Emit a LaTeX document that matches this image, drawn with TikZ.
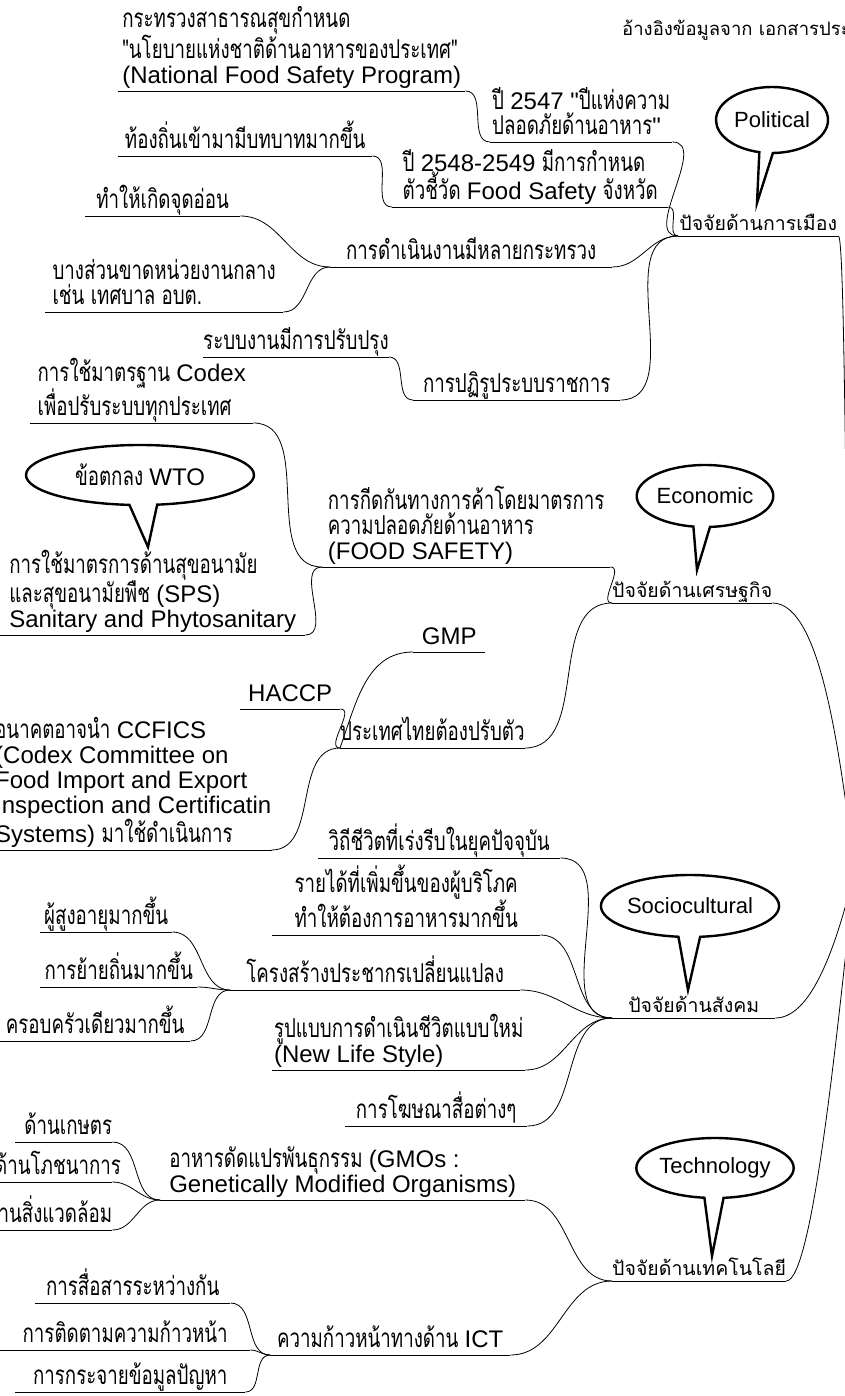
\documentclass[tikz,border=0pt]{standalone}
\usepackage{fontspec}
\setmainfont{Liberation Sans}
\newfontfamily\thaisub[Script=Thai,FakeStretch=0.72]{Loma}
\newfontfamily\thaimain[Script=Thai]{Loma}
\newfontfamily\latin{Liberation Sans}
\newcommand\en[1]{{\latin\fontsize{24}{25}\selectfont #1}}
\usetikzlibrary{shapes.callouts}

\tikzset{
  topic/.style={anchor=south west, inner xsep=0pt, inner ysep=0pt, text depth=7pt,
    align=left, font=\thaisub\fontsize{26}{25}\selectfont},
  branch/.style={topic, align=center, text depth=5pt, font=\thaimain\fontsize{19.5}{22}\selectfont},
  uline/.style={line width=0.8pt},
  link/.style={line width=0.8pt},
  bubble/.style={ellipse callout, draw, line width=2.4pt, fill=white, inner sep=0pt,
    callout pointer arc=14, font=\fontsize{22}{24}\selectfont}
}

\begin{document}
\begin{tikzpicture}[x=1pt,y=-1pt]
  \useasboundingbox (0,0) rectangle (845,1396);
  \coordinate (root) at (855,870);

  \node[anchor=west, inner sep=0pt, font=\thaimain\fontsize{18.5}{20}\selectfont] (note) at (622,30) {อ้างอิงข้อมูลจาก เอกสารประ};

  %ปัจจัยด้านการเมือง
  \node[branch, minimum width=160pt] (pol) at (678,236) {ปัจจัยด้านการเมือง};
  \node[topic, minimum width=182pt] (p2547) at (490,142) {ปี \en{2547 "}ปีแห่งความ\\ปลอดภัยด้านอาหาร\en{"}};
  \node[topic, minimum width=347pt] (nfsp) at (118,91) {กระทรวงสาธารณสุขกำหนด\\"นโยบายแห่งชาติด้านอาหารของประเทศ"\\\en{(National Food Safety Program)}};
  \node[topic, minimum width=276pt] (p2548) at (392,207) {ปี \en{2548-2549} มีการกำหนด\\ตัวชี้วัด \en{Food Safety} จังหวัด};
  \node[topic, minimum width=254pt] (local) at (118,156) {ท้องถิ่นเข้ามามีบทบาทมากขึ้น};
  \node[topic, minimum width=282pt] (ministry) at (330,267) {การดำเนินงานมีหลายกระทรวง};
  \node[topic, minimum width=155pt] (weak) at (85,216) {ทำให้เกิดจุดอ่อน};
  \node[topic, minimum width=238pt] (central) at (45,312) {บางส่วนขาดหน่วยงานกลาง\\เช่น เทศบาล อบต.};
  \node[topic, minimum width=207pt] (reform) at (413,400) {การปฏิรูประบบราชการ};
  \node[topic, minimum width=182pt] (improve) at (203,357) {ระบบงานมีการปรับปรุง};

  %ปัจจัยด้านเศรษฐกิจ
  \node[branch, minimum width=158pt] (eco) at (612,603) {ปัจจัยด้านเศรษฐกิจ};
  \node[topic, minimum width=288pt] (barrier) at (322,567) {การกีดกันทางการค้าโดยมาตรการ\\ความปลอดภัยด้านอาหาร\\\en{(FOOD SAFETY)}};
  \node[topic, minimum width=223pt] (codex) at (30,423) {การใช้มาตรฐาน \en{Codex}\\เพื่อปรับระบบทุกประเทศ};
  \node[topic, minimum width=305pt] (sps) at (0,635) {การใช้มาตรการด้านสุขอนามัย\\และสุขอนามัยพืช \en{(SPS)}\\\en{Sanitary and Phytosanitary}};
  \node[topic, minimum width=180pt] (thai) at (340,748) {ประเทศไทยต้องปรับตัว};
  \node[topic, minimum width=72pt] (gmp) at (413,652) {\en{GMP}};
  \node[topic, minimum width=100pt] (haccp) at (240,709) {\en{HACCP}};
  \node[topic, minimum width=275pt] (ccfics) at (-5,850) {อนาคตอาจนำ \en{CCFICS}\\\en{(Codex Committee on}\\\en{Food Import and Export}\\\en{Inspection and Certificatin}\\\en{Systems)} มาใช้ดำเนินการ};

  %ปัจจัยด้านสังคม
  \node[branch, minimum width=163pt] (soc) at (612,1018) {ปัจจัยด้านสังคม};
  \node[topic, minimum width=242pt] (rush) at (318,858) {วิถีชีวิตที่เร่งรีบในยุคปัจจุบัน};
  \node[topic, minimum width=268pt] (income) at (272,935) {รายได้ที่เพิ่มขึ้นของผู้บริโภค\\ทำให้ต้องการอาหารมากขึ้น};
  \node[topic, minimum width=290pt] (demog) at (230,990) {โครงสร้างประชากรเปลี่ยนแปลง};
  \node[topic, minimum width=132pt] (elder) at (40,932) {ผู้สูงอายุมากขึ้น};
  \node[topic, minimum width=157pt] (migr) at (40,987) {การย้ายถิ่นมากขึ้น};
  \node[topic, minimum width=190pt] (family) at (0,1041) {ครอบครัวเดียวมากขึ้น};
  \node[topic, minimum width=253pt] (life) at (272,1070) {รูปแบบการดำเนินชีวิตแบบใหม่\\\en{(New Life Style)}};
  \node[topic, minimum width=182pt] (ads) at (345,1126) {การโฆษณาสื่อต่างๆ};

  %ปัจจัยด้านเทคโนโลยี
  \node[branch, minimum width=160pt] (tech) at (612,1281) {ปัจจัยด้านเทคโนโลยี};
  \node[topic, minimum width=365pt] (gmo) at (160,1200) {อาหารดัดแปรพันธุกรรม \en{(GMOs :}\\\en{Genetically Modified Organisms)}};
  \node[topic, text width=97pt, align=right] (agri) at (15,1142) {ด้านเกษตร};
  \node[topic, text width=117pt, align=right] (nutri) at (-5,1182) {ด้านโภชนาการ};
  \node[topic, text width=137pt, align=right] (envi) at (-25,1230) {ด้านสิ่งแวดล้อม};
  \node[topic, minimum width=240pt] (ict) at (270,1355) {ความก้าวหน้าทางด้าน \en{ICT}};
  \node[topic, minimum width=195pt] (comm) at (35,1303) {การสื่อสารระหว่างกัน};
  \node[topic, minimum width=250pt] (track) at (0,1350) {การติดตามความก้าวหน้า};
  \node[topic, minimum width=230pt] (spread) at (15,1392) {การกระจายข้อมูลปัญหา};

  %เส้นใต้หัวข้อ
  \foreach \n in {pol,p2547,nfsp,p2548,local,ministry,weak,central,reform,improve,
                  eco,barrier,codex,sps,thai,gmp,haccp,ccfics,
                  soc,rush,income,demog,elder,migr,family,life,ads,
                  tech,gmo,agri,nutri,envi,ict,comm,track,spread}
    \draw[uline] (\n.south west) -- (\n.south east);

  %เส้นเชื่อม
  \foreach \a/\b in {nfsp/p2547,p2547/pol,local/p2548,p2548/pol,weak/ministry,central/ministry,
                     ministry/pol,improve/reform,reform/pol,
                     codex/barrier,sps/barrier,barrier/eco,haccp/thai,ccfics/thai,thai/eco,
                     rush/soc,income/soc,elder/demog,migr/demog,family/demog,demog/soc,life/soc,ads/soc,
                     agri/gmo,nutri/gmo,envi/gmo,gmo/tech,comm/ict,track/ict,spread/ict,ict/tech}
    \draw[link] (\a.south east) to[out=0,in=180] (\b.south west);
  \draw[link] (gmp.south west) to[out=180,in=70] (thai.south west);

  \draw[link] (pol.south east) .. controls +(8,0) and +(-10,-170) .. (root);
  \draw[link] (eco.south east) .. controls +(50,0) and +(-15,-110) .. (root);
  \draw[link] (soc.south east) .. controls +(40,0) and +(-15,60) .. (root);
  \draw[link] (tech.south east) .. controls +(28,0) and +(-15,130) .. (root);

  %ป้ายคำพูด
  \node[bubble, minimum width=112pt, minimum height=66pt, callout absolute pointer={(757,203)}] (polbub) at (772,120) {Political};
  \node[bubble, minimum width=228pt, minimum height=60pt, font=\thaisub\fontsize{26}{25}\selectfont, callout absolute pointer={(148,547)}] (wtobub) at (140,475) {ข้อตกลง \en{WTO}};
  \node[bubble, minimum width=130pt, minimum height=62pt, callout absolute pointer={(697,570)}] (ecobub) at (705,496) {Economic};
  \node[bubble, minimum width=145pt, minimum height=62pt, callout absolute pointer={(688,990)}] (socbub) at (690,906) {Sociocultural};
  \node[bubble, minimum width=140pt, minimum height=60pt, callout absolute pointer={(712,1256)}] (techbub) at (715,1168) {Technology};
\end{tikzpicture}
\end{document}
